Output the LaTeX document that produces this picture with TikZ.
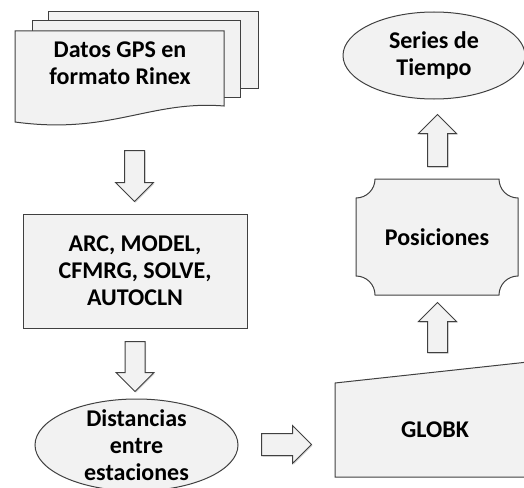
\documentclass[tikz,border=0pt]{standalone}
\usepackage{fontspec}
\setmainfont{Carlito}
\usetikzlibrary{shapes.geometric,shapes.arrows,shadows}
\definecolor{boxfill}{HTML}{F2F2F2}
\definecolor{boxline}{HTML}{404040}

\begin{document}
\begin{tikzpicture}[x=1pt, y=-1pt,
      box/.style={draw=boxline, fill=boxfill, line width=1pt},
      lbl/.style={font=\fontsize{24}{27}\selectfont\bfseries, align=center, inner sep=0pt},
      oval/.style={box, ellipse, inner sep=0pt},
      fatarrow/.style={box, single arrow, minimum height=#1,
                       single arrow head extend=9pt, single arrow tip angle=90,
                       inner xsep=0pt, inner ysep=9.5pt, anchor=tail,
                       drop shadow={opacity=0.35, shadow xshift=1pt, shadow yshift=-1pt}}
    ]
    \useasboundingbox (0,0) rectangle (524,487);

    % Input files (stack of documents)
    \draw[box] (48,12) rectangle (258,88);
    \draw[box] (32,21) rectangle (240,97);
    \draw[box] (15,31) -- (224,31) -- (224,106)
      .. controls (150,100) and (110,135) .. (15,122) -- cycle;
    \node[lbl] (docs) at (120,63.5) {Datos GPS en\\formato Rinex};

    % Processing
    \node[box, minimum width=224pt, minimum height=114pt] (proc) at (135,271) {};
    \node[lbl] (proclbl) at (proc) {ARC, MODEL,\\CFMRG, SOLVE,\\AUTOCLN};

    \node[oval, minimum width=203pt, minimum height=92pt] (dist) at (136.5,445) {};
    \node[lbl] (distlbl) at (dist) {Distancias\\entre\\estaciones};

    % Combination
    \draw[box] (335,383) -- (528,362) -- (528,477) -- (335,477) -- cycle;
    \node[lbl] (globk) at (435,430) {GLOBK};

    \draw[box] (375,179) -- (499,179)
      .. controls (499,189.5) and (507.5,198) .. (518,198) -- (518,276)
      .. controls (507.5,276) and (499,284.5) .. (499,295) -- (375,295)
      .. controls (375,284.5) and (366.5,276) .. (356,276) -- (356,198)
      .. controls (366.5,198) and (375,189.5) .. (375,179) -- cycle;
    \node[lbl] (pos) at (437,237) {Posiciones};

    \node[oval, minimum width=182pt, minimum height=87pt] (series) at (434,55.5) {};
    \node[lbl] (serieslbl) at (series) {Series de\\Tiempo};

    % Block arrows
    \node[fatarrow=51pt, rotate=-90] (a1) at (134.5,150) {};
    \node[fatarrow=50pt, rotate=-90] (a2) at (135,341) {};
    \node[fatarrow=50pt, inner ysep=10.5pt, single arrow head extend=8pt] (a3) at (261,444.5) {};
    \node[fatarrow=50pt, rotate=90] (a4) at (437.5,353) {};
    \node[fatarrow=52pt, rotate=90] (a5) at (437.5,167) {};
  \end{tikzpicture}
\end{document}
